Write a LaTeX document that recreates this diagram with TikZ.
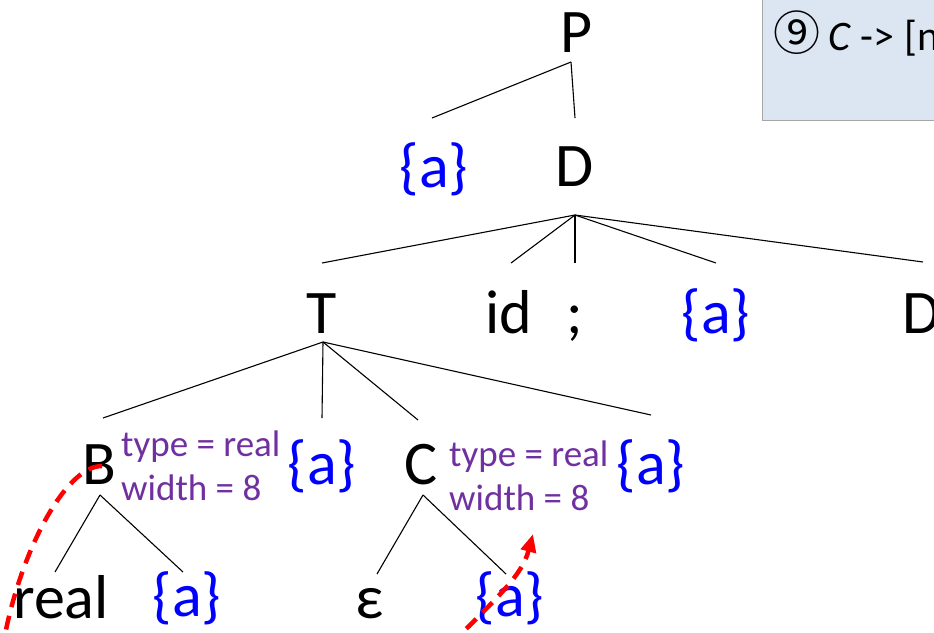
\documentclass[tikz,border=0pt]{standalone}
\usepackage{fontspec}
\setmainfont{Carlito}
\newfontfamily\cjk{Noto Sans CJK SC}
\usetikzlibrary{arrows.meta,calc}
\definecolor{pur}{HTML}{7030A0}
\definecolor{boxfill}{HTML}{DCE6F2}
\definecolor{boxline}{HTML}{A6A6A6}
\begin{document}
\begin{tikzpicture}[x=1pt,y=-1pt,
  big/.style={font=\fontsize{62}{66}\selectfont, inner sep=0pt, anchor=base},
  act/.style={big, text=blue},
  attr/.style={font=\fontsize{37}{42}\selectfont, text=pur, inner sep=0pt, anchor=base west},
  edge/.style={line width=1.1pt},
  flow/.style={red, line width=4.5pt, dash pattern=on 14pt off 9pt}]
\useasboundingbox (0,0) rectangle (934,632);
\begin{scope}
\clip (0,0) rectangle (934,632);
\draw[draw=boxline, line width=1pt, fill=boxfill] (762,-5) rectangle (980,120);
\node[font=\fontsize{42}{46}\selectfont, anchor=base west, inner sep=0pt] (rule) at (773,50)
  {{\cjk\fontsize{47}{50}\selectfont ⑨}\hspace{0.2em}\textit{C} -> [n};
\end{scope}

\node[big] (P) at (577,52) {P};
\node[act] (a1) at (434,187) {\{a\}};
\node[big] (D1) at (575,186) {D};
\node[big] (T) at (322,333) {T};
\node[big] (id) at (509,333) {id};
\node[big] (semi) at (575,333) {;};
\node[act] (a2) at (716,333) {\{a\}};
\node[big] (D2) at (922,333) {D};
\node[big] (B) at (99,484) {B};
\node[attr] (Bt) at (121,456) {type = real};
\node[attr] (Bw) at (121,500) {width = 8};
\node[act] (a3) at (322,484) {\{a\}};
\node[big] (C) at (421,484) {C};
\node[attr] (Ct) at (449,466) {type = real};
\node[attr] (Cw) at (449,510) {width = 8};
\node[act] (a4) at (651,484) {\{a\}};
\node[big] (real) at (61,618) {real};
\node[act] (a5) at (187,616) {\{a\}};
\node[big] (eps) at (370,618) {ε};
\node[act] (a6) at (510,616) {\{a\}};

\draw[edge] ($(P.base)+(-6,10)$) -- ($(a1.base)+(-2,-69)$);
\draw[edge] ($(P.base)+(-6,10)$) -- ($(D1.base)+(0,-68)$);
\draw[edge] ($(D1.base)+(0,29)$) -- ($(T.base)+(0,-70)$);
\draw[edge] ($(D1.base)+(0,29)$) -- ($(id.base)+(2,-70)$);
\draw[edge] ($(D1.base)+(0,29)$) -- ($(semi.base)+(0,-70)$);
\draw[edge] ($(D1.base)+(0,29)$) -- ($(a2.base)+(0,-70)$);
\draw[edge] ($(D1.base)+(0,29)$) -- ($(D2.base)+(1,-71)$);
\draw[edge] ($(T.base)+(1,9)$) -- ($(B.base)+(4,-66)$);
\draw[edge] ($(T.base)+(1,9)$) -- ($(a3.base)+(0,-66)$);
\draw[edge] ($(T.base)+(1,9)$) -- ($(C.base)+(-3,-64)$);
\draw[edge] ($(T.base)+(1,9)$) -- ($(a4.base)+(0,-69)$);
\draw[edge] ($(B.base)+(1,11)$) -- ($(real.base)+(-6,-46)$);
\draw[edge] ($(B.base)+(1,11)$) -- ($(a5.base)+(-4,-44)$);
\draw[edge] ($(C.base)+(2,11)$) -- ($(eps.base)+(7,-44)$);
\draw[edge] ($(C.base)+(2,11)$) -- ($(a6.base)+(-4,-42)$);

\begin{scope}
\clip (0,0) rectangle (934,632);
\draw[flow] ($(B.base)+(3,-18)$) .. controls ($(B.base)+(-34,-18)$) and ($(real.base)+(-41,-65)$) .. ($(real.base)+(-57,22)$);
\draw[flow, -{Triangle[length=18pt,width=15pt]}] ($(a6.base)+(-60,29)$) .. controls ($(a6.base)+(-10,-21)$) and ($(a6.base)+(12,-41)$) .. ($(a6.base)+(23,-82)$);
\end{scope}
\end{tikzpicture}
\end{document}
